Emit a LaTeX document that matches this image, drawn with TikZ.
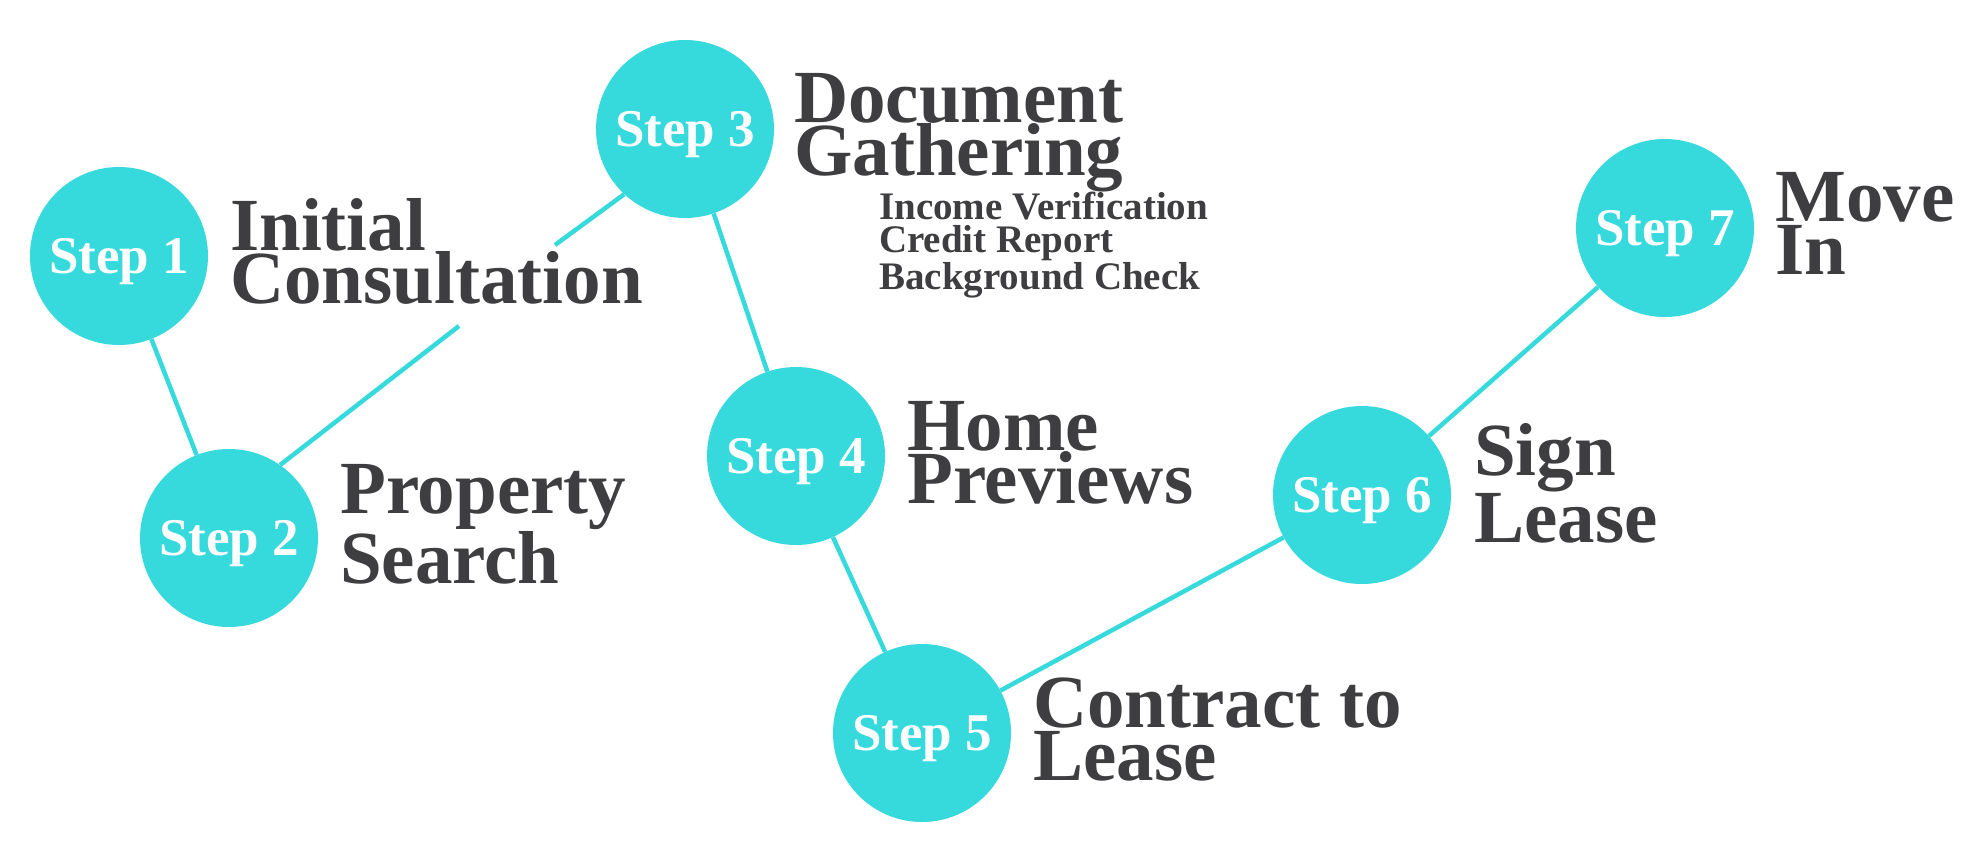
\documentclass[tikz,border=0pt]{standalone}
\usepackage{fontspec}
\setmainfont{Liberation Serif}
\definecolor{stepcyan}{HTML}{36D9DC}
\definecolor{labelgray}{HTML}{3E3E40}
\tikzset{
  stepnode/.style={circle, fill=stepcyan, minimum size=178pt, inner sep=0pt, text=white,
    font=\bfseries\fontsize{53pt}{53pt}\selectfont, text height=35pt, text depth=0pt},
  link/.style={draw=stepcyan, line width=4.5pt},
  title/.style={anchor=base west, align=left, text=labelgray, inner sep=0pt,
    font=\bfseries\fontsize{75pt}{53pt}\selectfont},
  subtitle/.style={anchor=base west, align=left, text=labelgray, inner sep=0pt,
    font=\bfseries\fontsize{39pt}{33pt}\selectfont}
}
\begin{document}
\begin{tikzpicture}[x=1pt,y=-1pt]
\useasboundingbox[fill=white] (0,0) rectangle (1988,860);
% step circles
\node[stepnode] (s1) at (119,256) {Step 1};
\node[stepnode] (s2) at (229,538) {Step 2};
\node[stepnode] (s3) at (685,129) {Step 3};
\node[stepnode] (s4) at (796,456) {Step 4};
\node[stepnode] (s5) at (922,733) {Step 5};
\node[stepnode] (s6) at (1362,495) {Step 6};
\node[stepnode] (s7) at (1665,228) {Step 7};
% gap in the 2-3 connector
\coordinate (g1) at (459,326);
\coordinate (g2) at (555,245);
% connectors
\draw[link] (s1) -- (s2);
\draw[link] (s2.55) -- (g1);
\draw[link] (g2) -- (s3.227);
\draw[link] (s3) -- (s4);
\draw[link] (s4) -- (s5);
\draw[link] (s5) -- (s6);
\draw[link] (s6) -- (s7);
% labels (anchored at the baseline of the last line)
\node[title] (t1) at (230,303) {Initial\\Consultation};
\node[title] (t2) at (340,583) {Property\\Search};
\node[title] (t3) at (794,175) {Document\\Gathering};
\node[subtitle] (t3b) at (879,289) {Income Verification\\Credit Report\\Background Check};
\node[title] (t4) at (907,503) {Home\\Previews};
\node[title] (t5) at (1033,780) {Contract to\\Lease};
\node[title] (t6) at (1474,542) {Sign\\Lease};
\node[title] (t7) at (1775,274) {Move\\In};
\end{tikzpicture}
\end{document}
